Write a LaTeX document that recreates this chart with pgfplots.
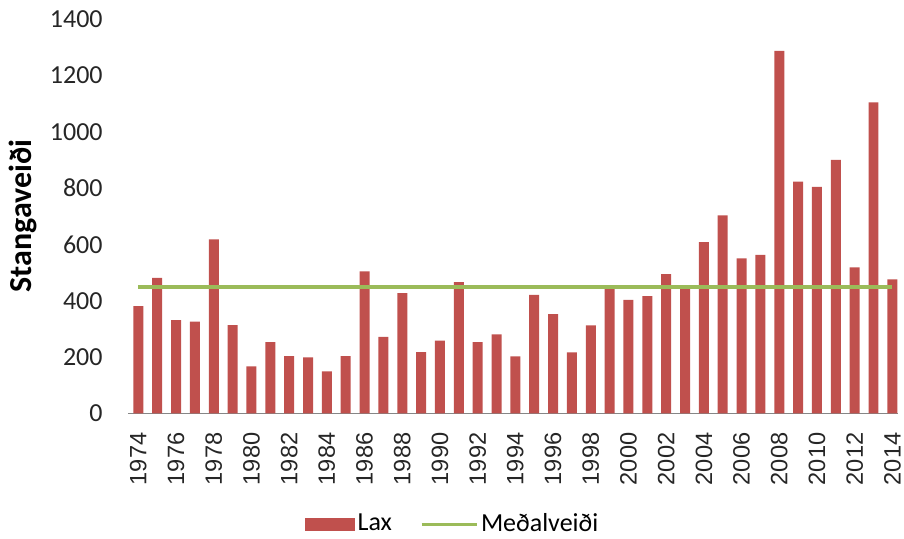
\documentclass[border=0pt]{standalone}
\usepackage{fontspec}
\setmainfont{Carlito}
\newfontfamily\arialf{Liberation Sans}
\usepackage{pgfplots}
\pgfplotsset{compat=1.18}
\usepackage{pgfplotstable}
\definecolor{laxred}{HTML}{C0504D}
\definecolor{avggreen}{HTML}{9BBB59}
\definecolor{axgray}{HTML}{868686}
\pgfplotstableread{
year value
1974 381
1975 481
1976 331
1977 326
1978 618
1979 313
1980 167
1981 253
1982 203
1983 199
1984 149
1985 203
1986 504
1987 271
1988 427
1989 217
1990 258
1991 466
1992 253
1993 280
1994 202
1995 421
1996 352
1997 216
1998 312
1999 452
2000 403
2001 416
2002 494
2003 447
2004 608
2005 703
2006 550
2007 563
2008 1287
2009 823
2010 804
2011 900
2012 518
2013 1104
2014 476
}\laxdata
\pgfplotstableread{
year value
1974 449
2014 449
}\avgdata
\begin{document}
\begin{tikzpicture}
\begin{axis}[
  scale only axis,
  width=385pt, height=197.1pt,
  xmin=1973.45, xmax=2014.3,
  ymin=0, ymax=1400,
  axis lines*=left,
  y axis line style={draw=none},
  x axis line style={draw=axgray, line width=0.6pt},
  major tick length=0pt,
  xtick={1974,1976,...,2014},
  ytick={0,200,...,1400},
  /pgf/number format/1000 sep={},
  /pgf/number format/assume math mode=true,
  xticklabel style={rotate=90, anchor=east, inner sep=0pt, font=\arialf\fontsize{11.8}{13}\selectfont, text=black!85},
  yticklabel style={anchor=east, inner sep=0pt, font=\fontsize{13}{15}\selectfont, text=black!85},
  xticklabel shift=9.5pt,
  yticklabel shift=12.5pt,
  ylabel={Stangavei\dh i},
  ylabel style={at={(axis description cs:-0.1358,0.5)}, anchor=center, rotate=0, font=\bfseries\fontsize{16}{18}\selectfont},
  legend columns=2,
  legend style={at={(axis description cs:0.422,-0.281)}, anchor=center, draw=none, fill=none,
    font=\fontsize{13}{15}\selectfont,
    /tikz/every even column/.append style={column sep=12.5pt},
    nodes={inner sep=1.5pt}},
  clip=false,
]
\addplot[ybar, bar width=0.53, bar shift=0pt, fill=laxred, draw=none,
  legend image code/.code={\fill[laxred] (0pt,-3.25pt) rectangle (25pt,3.25pt);}]
  table[x=year, y=value] {\laxdata};
\addlegendentry{Lax}
\addplot[avggreen, line width=2pt, mark=none,
  legend image code/.code={\draw[avggreen, line width=1.5pt] (0pt,0pt) -- (27.5pt,0pt);}]
  table[x=year, y=value] {\avgdata};
\addlegendentry{Me\dh alvei\dh i}
\end{axis}
\pgfresetboundingbox
\path (current axis.south west) ++(-64pt,-62.85pt) rectangle ++(452pt,269.5pt);
\end{tikzpicture}
\end{document}
